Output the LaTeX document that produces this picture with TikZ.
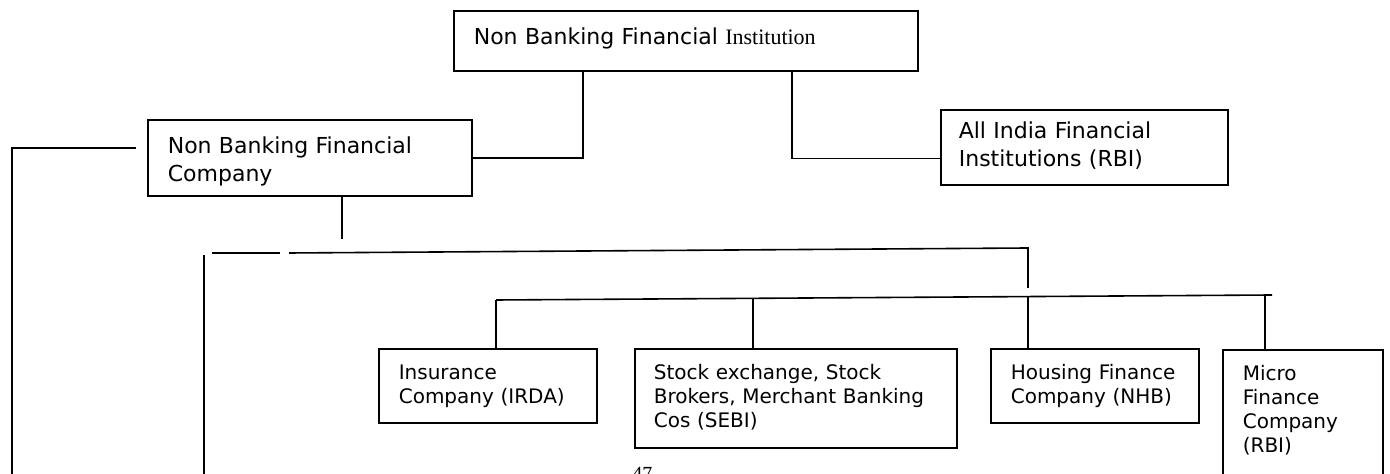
\documentclass[tikz,border=0pt]{standalone}
\usepackage{fontspec}
\newfontfamily\boxFont{DejaVu Sans}
\newfontfamily\serifBit{Liberation Serif}
\usetikzlibrary{calc}
\tikzset{
  orgBox/.style={draw, line width=0.8pt, anchor=north west, inner ysep=0pt,
    inner xsep=10pt, align=left},
  bigText/.style={font=\boxFont\fontsize{11}{14}\selectfont},
  smallText/.style={font=\boxFont\fontsize{10}{12}\selectfont},
  orgLine/.style={line width=0.8pt},
}

\begin{document}
\begin{tikzpicture}[x=0.5pt, y=-0.5pt]
  \useasboundingbox (0,0) rectangle (1390,474);
  \fill[white] (0,0) rectangle (1390,474);
  \clip (0,0) rectangle (1390,474);

  % upper level
  \node[orgBox, bigText, text width=212pt, text height=17pt, text depth=13pt]
    (inst) at (453,10) {Non Banking Financial {\serifBit Institution}};
  \node[orgBox, bigText, text width=142pt, text height=17pt, text depth=21pt]
    (nbfc) at (147,119) {Non Banking Financial\\Company};
  \node[orgBox, bigText, inner xsep=9pt, text width=125.5pt, text height=14.5pt,
        text depth=23pt]
    (aifi) at (940,109) {All India Financial\\Institutions (RBI)};

  % regulated companies
  \node[orgBox, smallText, text width=89pt, text height=15.5pt, text depth=21.5pt]
    (ins) at (378,348) {Insurance\\Company (IRDA)};
  \node[orgBox, smallText, inner xsep=9.5pt, text width=142pt, text height=15.5pt,
        text depth=34pt]
    (sebi) at (634,348) {Stock exchange, Stock\\Brokers, Merchant Banking\\Cos (SEBI)};
  \node[orgBox, smallText, text width=84pt, text height=15.5pt, text depth=21.5pt]
    (house) at (990,348) {Housing Finance\\Company (NHB)};
  \node[orgBox, smallText, text width=60pt, text height=15.5pt, text depth=55pt]
    (micro) at (1222,349) {Micro\\Finance\\Company\\(RBI)};

  \node[font=\serifBit\fontsize{10}{12}\selectfont, anchor=base west, inner sep=0pt]
    (pageNo) at (632,481) {47};

  % free ends of the lines
  \coordinate (leftEnd) at (136,148);
  \coordinate (leftFoot) at (12,480);
  \coordinate (nbfcStub) at (342,239);
  \coordinate (barA1) at (212,253);
  \coordinate (barA2) at (280,253);
  \coordinate (barB1) at (289,253);
  \coordinate (barB2) at (1028,248);
  \coordinate (barDrop) at (1028,288);
  \coordinate (sideTop) at (204,255);
  \coordinate (sideFoot) at (204,480);
  \coordinate (bar2L) at (496,300);
  \coordinate (bar2R) at (1272,295);
  \coordinate (tapSebi) at ($(bar2L)!0.331!(bar2R)$);
  \coordinate (tapHouse) at ($(bar2L)!0.6856!(bar2R)$);
  \coordinate (tapMicro) at ($(bar2L)!0.991!(bar2R)$);

  \draw[orgLine] ($(inst.south west)+(130,0)$) |- (nbfc.east);
  \draw[orgLine] ($(inst.south west)+(339,0)$) |- ($(aifi.south west)+(0,-27)$);
  \draw[orgLine] (leftEnd) -| (leftFoot);
  \draw[orgLine] (nbfc.south -| nbfcStub) -- (nbfcStub);
  \draw[orgLine] (barA1) -- (barA2);
  \draw[orgLine] (barB1) -- (barB2) -- (barDrop);
  \draw[orgLine] (sideTop) -- (sideFoot);
  \draw[orgLine] (bar2L) -- (bar2R);
  \draw[orgLine] (bar2L) -- (bar2L |- ins.north);
  \draw[orgLine] (tapSebi) -- (tapSebi |- sebi.north);
  \draw[orgLine] (tapHouse) -- (tapHouse |- house.north);
  \draw[orgLine] (tapMicro) -- (tapMicro |- micro.north);
\end{tikzpicture}
\end{document}
